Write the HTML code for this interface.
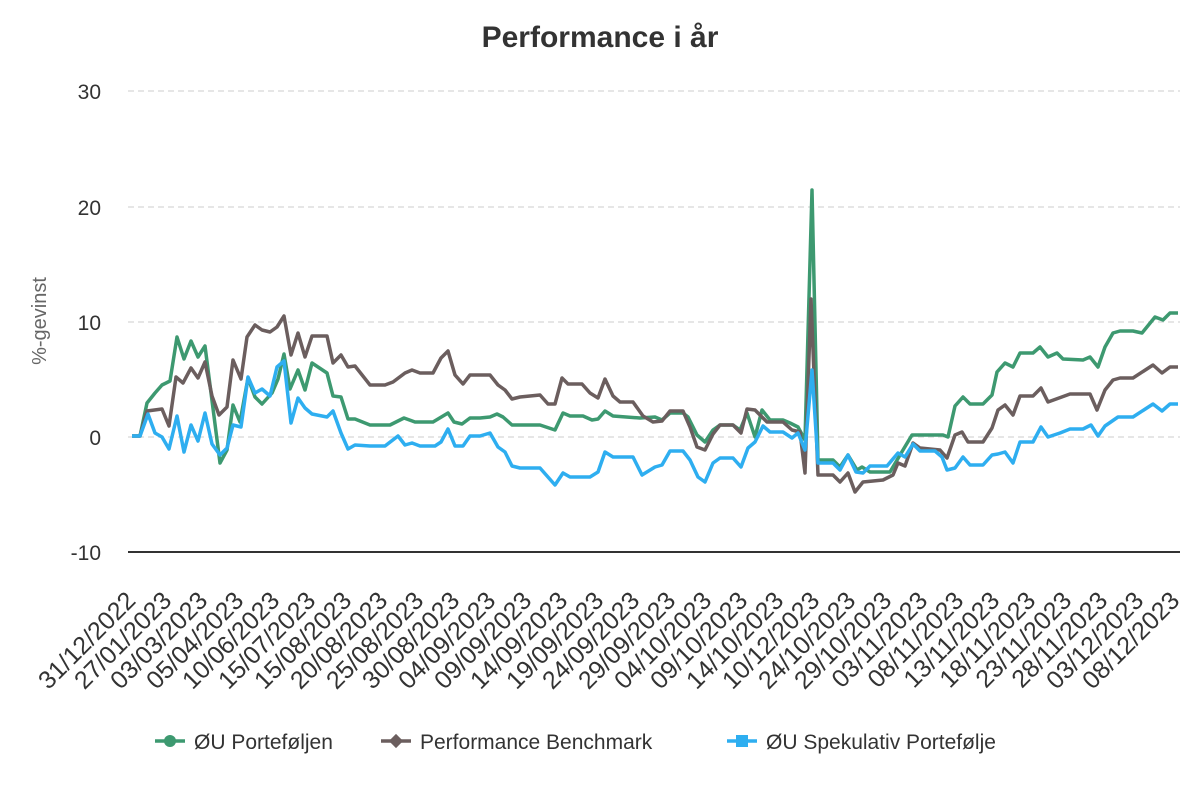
<!DOCTYPE html>
<html><head><meta charset="utf-8"><style>body{margin:0;background:#fff}svg{display:block}</style></head><body>
<svg width="1200" height="800" xmlns="http://www.w3.org/2000/svg" font-family="Liberation Sans, sans-serif">
<text x="600" y="47" text-anchor="middle" font-size="30" font-weight="bold" fill="#333">Performance i år</text>
<g stroke="#ddd" stroke-width="1.5" stroke-dasharray="6,4">
<line x1="128" y1="91" x2="1180" y2="91"/><line x1="128" y1="207" x2="1180" y2="207"/><line x1="128" y1="322" x2="1180" y2="322"/><line x1="128" y1="437" x2="1180" y2="437"/>
</g>
<line x1="128" y1="552" x2="1180" y2="552" stroke="#333" stroke-width="2"/>
<g font-size="21" fill="#333" text-anchor="end">
<text x="101" y="99">30</text><text x="101" y="215">20</text><text x="101" y="330">10</text><text x="101" y="445">0</text><text x="101" y="560">-10</text>
</g>
<text transform="translate(46,321) rotate(-90)" text-anchor="middle" font-size="20" fill="#666">%-gevinst</text>
<g font-size="25" fill="#333" text-anchor="end">
<text transform="translate(137,602) rotate(-45)">31/12/2022</text>
<text transform="translate(173,602) rotate(-45)">27/01/2023</text>
<text transform="translate(209,602) rotate(-45)">03/03/2023</text>
<text transform="translate(245,602) rotate(-45)">05/04/2023</text>
<text transform="translate(281,602) rotate(-45)">10/06/2023</text>
<text transform="translate(317,602) rotate(-45)">15/07/2023</text>
<text transform="translate(353,602) rotate(-45)">15/08/2023</text>
<text transform="translate(389,602) rotate(-45)">20/08/2023</text>
<text transform="translate(425,602) rotate(-45)">25/08/2023</text>
<text transform="translate(461,602) rotate(-45)">30/08/2023</text>
<text transform="translate(497,602) rotate(-45)">04/09/2023</text>
<text transform="translate(533,602) rotate(-45)">09/09/2023</text>
<text transform="translate(569,602) rotate(-45)">14/09/2023</text>
<text transform="translate(605,602) rotate(-45)">19/09/2023</text>
<text transform="translate(641,602) rotate(-45)">24/09/2023</text>
<text transform="translate(677,602) rotate(-45)">29/09/2023</text>
<text transform="translate(713,602) rotate(-45)">04/10/2023</text>
<text transform="translate(749,602) rotate(-45)">09/10/2023</text>
<text transform="translate(785,602) rotate(-45)">14/10/2023</text>
<text transform="translate(821,602) rotate(-45)">10/12/2023</text>
<text transform="translate(857,602) rotate(-45)">24/10/2023</text>
<text transform="translate(893,602) rotate(-45)">29/10/2023</text>
<text transform="translate(929,602) rotate(-45)">03/11/2023</text>
<text transform="translate(965,602) rotate(-45)">08/11/2023</text>
<text transform="translate(1001,602) rotate(-45)">13/11/2023</text>
<text transform="translate(1037,602) rotate(-45)">18/11/2023</text>
<text transform="translate(1073,602) rotate(-45)">23/11/2023</text>
<text transform="translate(1109,602) rotate(-45)">28/11/2023</text>
<text transform="translate(1145,602) rotate(-45)">03/12/2023</text>
<text transform="translate(1181,602) rotate(-45)">08/12/2023</text>
</g>
<g fill="none" stroke-width="3.5" stroke-linejoin="round">
<polyline stroke="#3d9970" points="132,436 140,436 147,403 155,393 162,385 170,381 177,337 184,359 191,341 198,357 205,346 220,463 227,450 233,405 240,422 248,378 255,397 262,404 272,393 278,379 284,354 290,389 298,370 305,390 312,363 327,373 333,396 341,397 348,419 355,419 370,425 390,425 404,418 415,422 433,422 448,413 454,422 462,424 470,418 480,418 490,417 497,414 503,417 512,425 540,425 555,430 563,413 570,416 583,416 592,420 598,419 605,411 613,416 640,418 655,417 662,420 670,413 683,413 688,417 697,435 705,442 713,430 720,425 733,425 740,430 747,413 755,437 762,410 770,420 783,420 790,423 798,427 805,440 812,190 818,460 833,460 840,467 848,455 857,470 862,467 870,472 890,472 903,450 912,435 943,435 948,437 955,406 963,397 970,404 983,404 992,395 997,372 1005,363 1013,367 1020,353 1033,353 1040,347 1048,357 1057,353 1063,359 1083,360 1090,357 1098,367 1105,347 1113,333 1120,331 1133,331 1142,333 1155,317 1163,320 1170,313 1178,313"/>
<polyline stroke="#6b5e5e" points="132,436 140,436 147,411 162,409 169,426 176,377 183,383 191,368 198,378 205,362 212,396 219,415 227,407 233,360 241,379 247,337 255,325 262,330 270,332 277,327 284,316 291,355 298,333 305,357 312,336 327,336 333,363 341,355 348,367 355,366 370,385 385,385 393,382 405,373 412,370 420,373 433,373 441,358 448,351 455,375 463,384 470,375 490,375 498,385 505,390 512,399 520,397 540,395 548,404 555,404 562,378 568,384 582,384 590,393 598,398 605,379 613,396 620,402 633,402 643,416 653,422 662,421 670,411 683,411 690,427 697,447 705,450 713,434 720,425 733,425 741,433 747,409 755,410 767,422 783,422 792,430 800,432 805,473 811,299 818,475 833,475 840,482 848,473 855,492 863,482 883,480 893,475 898,463 905,466 913,443 920,448 940,450 947,458 955,435 962,432 968,442 983,442 992,428 998,410 1005,405 1013,415 1020,396 1033,396 1041,388 1048,402 1070,394 1090,394 1097,410 1105,390 1113,380 1120,378 1133,378 1153,365 1162,373 1170,367 1178,367"/>
<polyline stroke="#2eaef0" points="132,436 140,436 148,414 155,433 162,437 169,449 177,416 184,452 191,425 198,441 205,413 212,444 220,455 227,448 233,425 241,427 248,377 255,393 262,389 270,396 277,367 284,361 291,423 298,398 305,408 312,414 327,417 333,411 341,433 348,449 355,445 370,446 385,446 398,436 405,445 412,443 420,446 435,446 441,442 448,429 455,446 463,446 470,436 480,436 490,433 498,447 505,452 512,466 520,468 540,468 555,485 563,473 570,477 590,477 598,472 605,452 613,457 633,457 642,475 655,467 662,465 670,451 683,451 690,460 698,477 705,482 713,463 720,458 733,458 741,467 748,448 755,442 763,426 770,432 783,432 792,438 798,433 805,450 812,370 818,463 833,463 840,470 848,455 856,472 863,473 870,466 887,466 898,453 905,457 913,444 920,451 935,451 942,457 947,470 955,468 963,457 970,465 983,465 992,455 998,454 1005,452 1013,463 1020,442 1033,442 1041,427 1048,437 1060,433 1070,429 1083,429 1091,425 1098,436 1105,426 1118,417 1133,417 1153,404 1162,411 1170,404 1178,404"/>
</g>
<g font-size="21" fill="#333">
<line x1="155" y1="741" x2="185" y2="741" stroke="#3d9970" stroke-width="3.5"/><circle cx="170" cy="741" r="6" fill="#3d9970"/>
<text x="194" y="749">ØU Porteføljen</text>
<line x1="381" y1="741" x2="411" y2="741" stroke="#6b5e5e" stroke-width="3.5"/><rect x="391" y="736" width="10" height="10" fill="#6b5e5e" transform="rotate(45 396 741)"/>
<text x="420" y="749">Performance Benchmark</text>
<line x1="727" y1="741" x2="757" y2="741" stroke="#2eaef0" stroke-width="3.5"/><rect x="736" y="735" width="12" height="12" fill="#2eaef0"/>
<text x="766" y="749">ØU Spekulativ Portefølje</text>
</g>
</svg>
</body></html>
